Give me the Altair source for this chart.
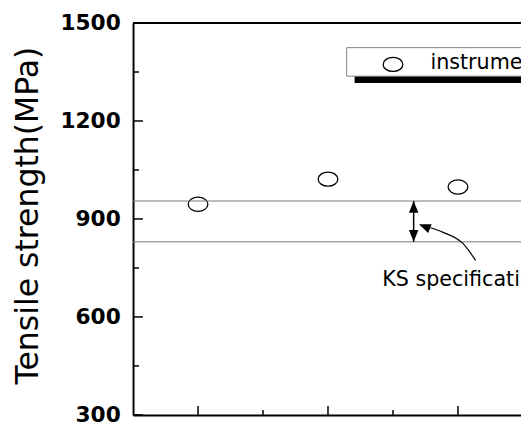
import altair as alt
import pandas as pd

# ---- data ----
samples = [1, 2, 3]
strength = [945, 1022, 998]
ks_limits = [955, 830]
y_major = [300, 600, 900, 1200, 1500]
y_minor = [450, 750, 1050, 1350]
x_major = [1, 2, 3]
x_minor = [1.5, 2.5]
arrow_x = [2.659]
curve_x = [2.788, 2.886, 3.038, 3.136]
curve_y = [873, 859, 825, 773]
head_x = [2.742]
head_y = [877]
legend_label = "instrumented indentation"
ks_label = "KS specification"
y_title = "Tensile strength(MPa)"

X_DOMAIN = [0.5, 3.485]
Y_DOMAIN = [300, 1500]
W, H = 394, 398

xs = alt.Scale(domain=X_DOMAIN, nice=False, zero=False)
ys = alt.Scale(domain=Y_DOMAIN, nice=False, zero=False)

ELLIPSE = "M-1,0A1,0.72,0,1,0,1,0A1,0.72,0,1,0,-1,0Z"
HEAD_UP = "M0,-1L0.8,1L-0.8,1Z"
HEAD_DOWN = "M0,1L0.8,-1L-0.8,-1Z"
FONT = "DejaVu Sans"

XAX = alt.Axis(title=None, labels=False, ticks=False, grid=False,
               domainColor="black", domainWidth=2)
YAX = alt.Axis(
    values=y_major, format="d", title=y_title, ticks=False, grid=False,
    domainColor="black", domainWidth=2,
    labelFont=FONT, labelFontWeight="bold", labelFontSize=22,
    labelColor="black", labelPadding=13, labelFlush=False,
    labelOverlap=False,
    titleFont=FONT, titleFontSize=32, titleFontWeight="normal",
    titleColor="black", titleX=-97, titleY=195, titleAngle=-90,
    titleBaseline="alphabetic", titleAlign="center")


def X(f):
    return alt.X(f, scale=xs, axis=XAX, title=None)


def Y(f):
    return alt.Y(f, scale=ys, axis=YAX, title=y_title)


pts = pd.DataFrame({"sample": samples, "strength": strength})

points = alt.Chart(pts).mark_point(
    shape=ELLIPSE, size=400, filled=True, fill="white", stroke="black",
    strokeWidth=1.3, opacity=1
).encode(x=X("sample:Q"), y=Y("strength:Q"))

ks_df = pd.DataFrame({"v": ks_limits})
ks_lines = alt.Chart(ks_df).mark_rule(color="#777777", strokeWidth=1).encode(
    y=Y("v:Q")
)

top_line = alt.Chart(pd.DataFrame({"a": [0]})).mark_rule(
    color="black", strokeWidth=2
).encode(y=alt.value(0), x=alt.value(0), x2=alt.value(W))

ymaj = alt.Chart(pd.DataFrame({"v": y_major})).mark_rule(
    color="black", strokeWidth=1.5
).encode(y=Y("v:Q"), x=alt.value(0), x2=alt.value(10))
ymin = alt.Chart(pd.DataFrame({"v": y_minor})).mark_rule(
    color="black", strokeWidth=1.5
).encode(y=Y("v:Q"), x=alt.value(0), x2=alt.value(6))
xmaj = alt.Chart(pd.DataFrame({"v": x_major})).mark_rule(
    color="black", strokeWidth=1.5
).encode(x=X("v:Q"), y=alt.value(H), y2=alt.value(H - 9))
xmin = alt.Chart(pd.DataFrame({"v": x_minor})).mark_rule(
    color="black", strokeWidth=1.5
).encode(x=X("v:Q"), y=alt.value(H), y2=alt.value(H - 5))

arr_df = pd.DataFrame({"x": arrow_x, "top": [ks_limits[0]], "bot": [ks_limits[1]]})
stem = alt.Chart(arr_df).mark_rule(color="black", strokeWidth=1.5).encode(
    x=X("x:Q"), y=Y("top:Q"), y2="bot:Q")
head_up = alt.Chart(arr_df).mark_point(
    shape=HEAD_UP, size=144, filled=True, color="black", opacity=1, yOffset=6
).encode(x=X("x:Q"), y=Y("top:Q"))
head_down = alt.Chart(arr_df).mark_point(
    shape=HEAD_DOWN, size=144, filled=True, color="black", opacity=1, yOffset=-6
).encode(x=X("x:Q"), y=Y("bot:Q"))

curve = alt.Chart(pd.DataFrame({"x": curve_x, "y": curve_y})).mark_line(
    color="black", strokeWidth=1.2, interpolate="monotone"
).encode(x=X("x:Q"), y=Y("y:Q"))
curve_head = alt.Chart(pd.DataFrame({"x": head_x, "y": head_y})).mark_point(
    shape=HEAD_UP, size=144, filled=True, color="black", opacity=1, angle=292
).encode(x=X("x:Q"), y=Y("y:Q"))

ks_text = alt.Chart(pd.DataFrame({"t": [ks_label]})).mark_text(
    align="left", baseline="alphabetic", font=FONT, fontSize=21, color="black"
).encode(x=alt.value(253), y=alt.value(267), text="t:N")

one = pd.DataFrame({"a": [0]})
leg_shadow = alt.Chart(one).mark_rect(fill="black").encode(
    x=alt.value(225), x2=alt.value(440), y=alt.value(32), y2=alt.value(61))
leg_box = alt.Chart(one).mark_rect(fill="white", stroke="#808080", strokeWidth=1).encode(
    x=alt.value(217), x2=alt.value(440), y=alt.value(25), y2=alt.value(54))
leg_mark = alt.Chart(one).mark_point(
    shape=ELLIPSE, size=400, filled=True, fill="white", stroke="black",
    strokeWidth=1.3, opacity=1
).encode(x=alt.value(264), y=alt.value(42))
leg_text = alt.Chart(pd.DataFrame({"t": [legend_label]})).mark_text(
    align="left", baseline="alphabetic", font=FONT, fontSize=21, color="black"
).encode(x=alt.value(302), y=alt.value(47), text="t:N")

chart = alt.layer(
    points, ks_lines, top_line, ymaj, ymin, xmaj, xmin, stem, head_up, head_down,
    curve, curve_head, ks_text, leg_shadow, leg_box, leg_mark, leg_text
).properties(
    width=W, height=H,
    padding={"left": 127, "top": 12, "right": 0, "bottom": 8},
    autosize=alt.AutoSizeParams(type="none"),
).configure_view(stroke=None)

chart.save("out.html", embed_options={"renderer": "svg", "actions": False})
